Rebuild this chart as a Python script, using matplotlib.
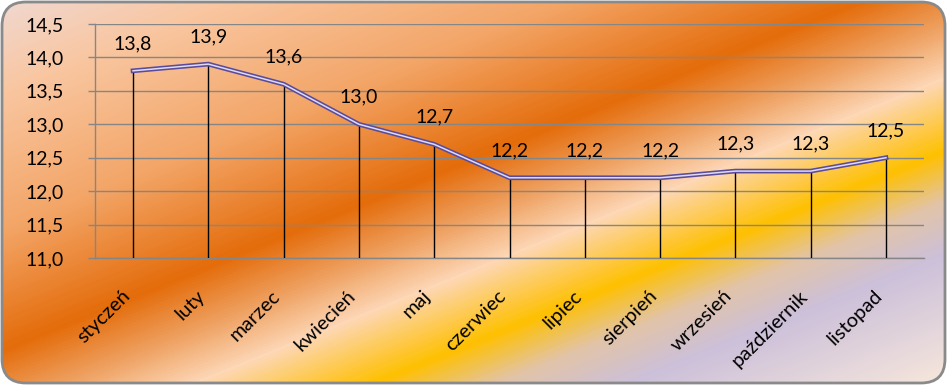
import numpy as np
import matplotlib
matplotlib.use("Agg")
import matplotlib.pyplot as plt
from matplotlib.colors import LinearSegmentedColormap
from matplotlib.patches import FancyBboxPatch
from matplotlib.ticker import FuncFormatter, MultipleLocator

# data
months = ['styczeń', 'luty', 'marzec', 'kwiecień', 'maj', 'czerwiec',
          'lipiec', 'sierpień', 'wrzesień', 'październik', 'listopad']
values = [13.8, 13.9, 13.6, 13.0, 12.7, 12.2, 12.2, 12.2, 12.3, 12.3, 12.5]

plt.rcParams['font.family'] = ['Lato', 'DejaVu Sans']

W, H = 948, 386
fig = plt.figure(figsize=(W / 100, H / 100), dpi=100)

# background gradient, diagonal from top-left to bottom-right
bg = fig.add_axes([0, 0, 1, 1])
bg.set_xlim(0, W)
bg.set_ylim(H, 0)
bg.axis('off')
stops = [(0.00, '#f0d8d0'), (0.12, '#f9c6a0'), (0.30, '#f3a567'),
         (0.455, '#e46c0a'), (0.53, '#eea060'), (0.60, '#fdd7b6'),
         (0.695, '#ffc000'), (0.76, '#e2c4a8'), (0.83, '#ccc0da'),
         (1.00, '#f8e8dc')]
cmap = LinearSegmentedColormap.from_list('bg', stops)
uu, vv = np.meshgrid(np.linspace(0, 1, W), np.linspace(0, 1, H))
img = bg.imshow((uu + vv) / 2, cmap=cmap, vmin=0, vmax=1,
                extent=(0, W, H, 0), aspect='auto', interpolation='bilinear')
frame = FancyBboxPatch((2, 2), W - 5, H - 5,
                       boxstyle='round,pad=0,rounding_size=24',
                       facecolor='none', edgecolor='#8a8a8a', lw=2)
bg.add_patch(frame)
img.set_clip_path(frame)

# chart
ax = fig.add_axes([95.4 / W, 128 / H, (923.6 - 95.4) / W, 234 / H])
ax.set_facecolor('none')
x = np.arange(len(months))

ax.vlines(x, 11.0, values, color='black', lw=1, zorder=3)
ax.plot(x, values, color='#5a4c9c', lw=3.4, solid_joinstyle='miter', zorder=4)
ax.plot(x, values, color='#e0daf2', lw=1.1, solid_joinstyle='miter', zorder=5)

for xi, v in zip(x, values):
    ax.annotate(f'{v:.1f}'.replace('.', ','), (xi, v), xytext=(0, 19.5),
                textcoords='offset points', ha='center', va='center',
                fontsize=14, color='black', zorder=6)

ax.set_xlim(-0.5, len(months) - 0.5)
ax.set_ylim(11.0, 14.5)
ax.yaxis.set_major_locator(MultipleLocator(0.5))
ax.yaxis.set_major_formatter(FuncFormatter(lambda v, p: f'{v:.1f}'.replace('.', ',')))
ax.grid(axis='y', color='#868686', lw=1)
ax.set_axisbelow(True)

ax.set_xticks(x)
ax.set_xticklabels(months, rotation=45, ha='right', va='top', fontsize=14.5)
ax.tick_params(axis='x', length=0, pad=21)
ax.tick_params(axis='y', length=5, color='#868686', width=1, pad=18, labelsize=14)

for s in ['top', 'right']:
    ax.spines[s].set_visible(False)
for s in ['left', 'bottom']:
    ax.spines[s].set_color('#868686')
    ax.spines[s].set_linewidth(1)

fig.savefig('out.png', dpi=100)
